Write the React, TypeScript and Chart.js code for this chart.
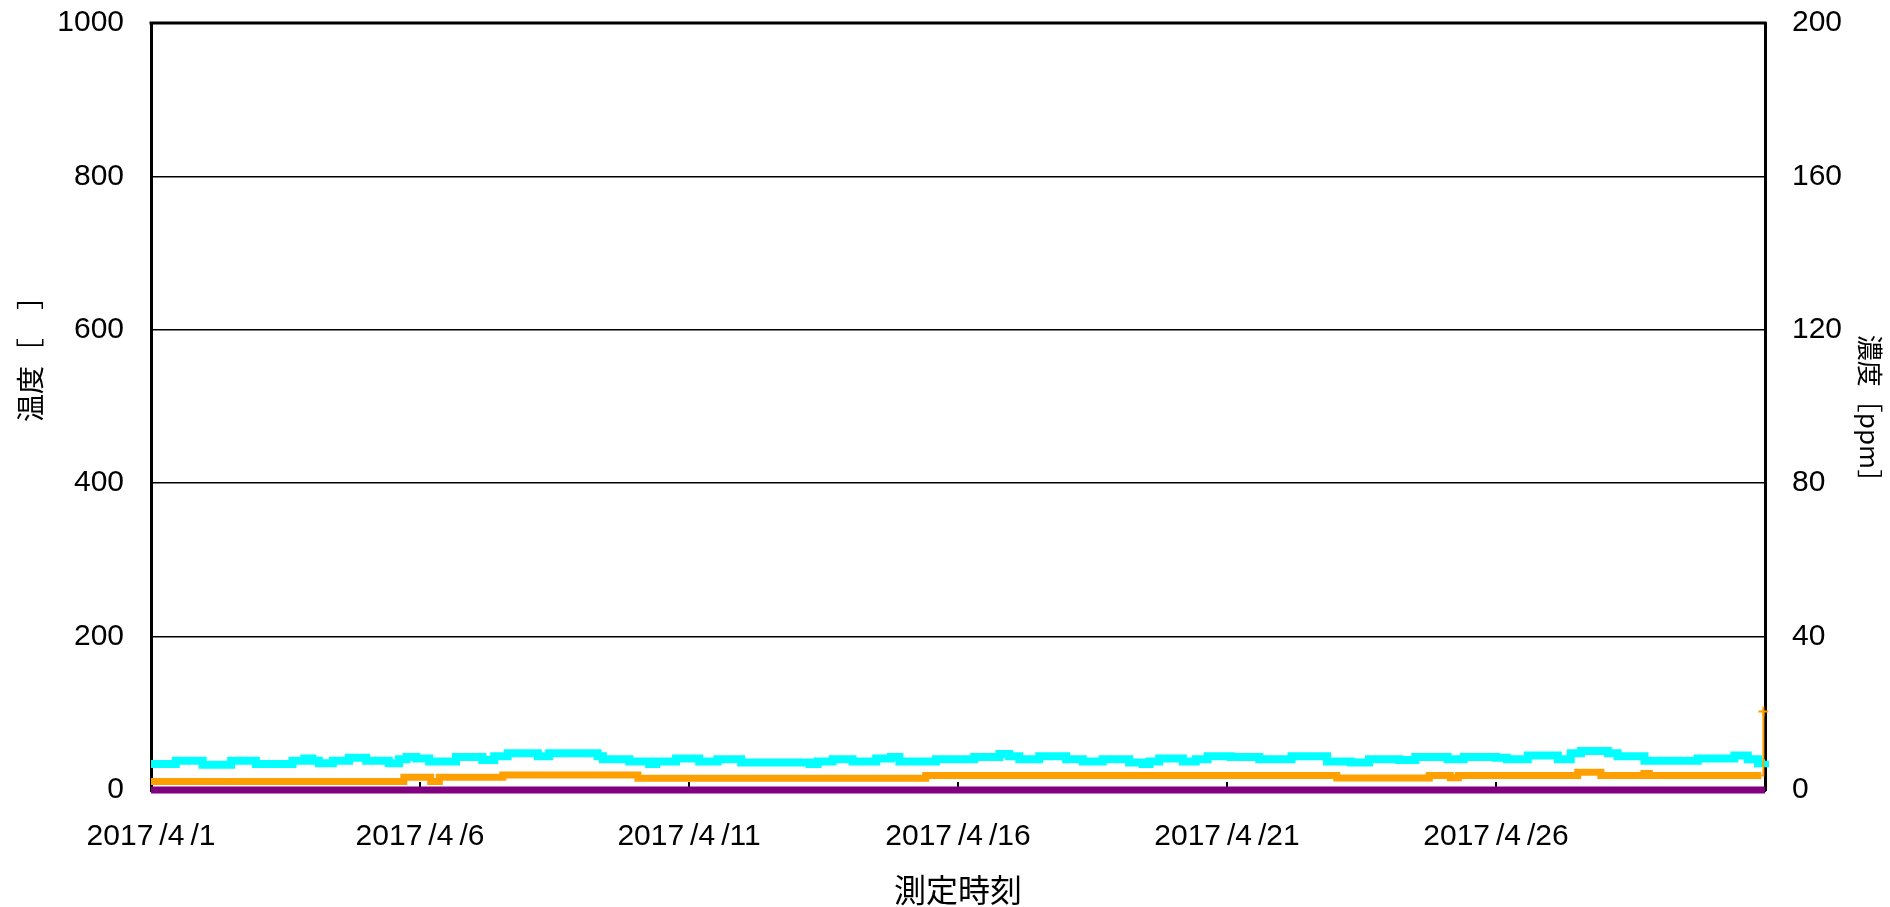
import React, { useEffect, useRef } from "react";
import { Chart, registerables } from "chart.js";

Chart.register(...registerables);

// Time axis: days elapsed since 2017/4/1 00:00
const xTickDays = [0, 5, 10, 15, 20, 25];
const xTickLabels = ["2017/4/1", "2017/4/6", "2017/4/11", "2017/4/16", "2017/4/21", "2017/4/26"];

// Temperature series (left axis) – step change points
const tempDays = [0, 0.46, 0.96, 1.49, 1.95, 2.63, 2.85, 3.0, 3.12, 3.38, 3.68, 4.0, 4.42, 4.61, 4.75, 4.93, 5.17, 5.67, 6.16, 6.38, 6.63, 7.19, 7.4, 8.3, 8.4, 8.89, 9.26, 9.39, 9.76, 10.19, 10.53, 10.97, 12.24, 12.39, 12.67, 13.04, 13.48, 13.75, 13.91, 14.59, 15.3, 15.77, 15.95, 16.14, 16.51, 17.01, 17.32, 17.69, 18.18, 18.43, 18.56, 18.74, 19.18, 19.42, 19.64, 20.07, 20.6, 21.2, 21.86, 22.3, 22.64, 23.2, 23.5, 24.1, 24.4, 25.0, 25.2, 25.59, 26.15, 26.39, 26.58, 27.08, 27.26, 27.76, 28.75, 29.43, 29.68, 29.87, 30];
const tempValues = [34, 38, 33, 38, 34, 38, 41, 38, 35, 38, 42, 38, 35, 40, 43, 41, 37, 43, 39, 44, 48, 44, 48, 44, 40, 37, 34, 37, 41, 37, 40, 36, 34, 37, 40, 37, 41, 43, 37, 40, 43, 47, 44, 40, 44, 40, 37, 40, 36, 34, 37, 41, 37, 40, 44, 43, 40, 44, 37, 36, 40, 39, 43, 40, 43, 42, 40, 45, 40, 48, 51, 48, 44, 38, 41, 45, 40, 35, 38];

// Concentration series A (right axis, ppm)
const concDays = [0, 4.7, 5.2, 5.36, 6.54, 9.05, 14.4, 22.04, 23.76, 24.15, 24.3, 26.52, 26.95, 27.75, 27.85, 29.93, 29.97];
const concValues = [2.2, 3.3, 2.2, 3.3, 3.9, 3.05, 3.8, 3.1, 3.8, 3.2, 3.8, 4.6, 3.8, 4.3, 3.8, 3.8, 20.5];

// Concentration series B (right axis, ppm)
const conc2Days = [0, 30];
const conc2Values = [0, 0];

const leftTicks = [0, 200, 400, 600, 800, 1000];
const rightTicks = [0, 40, 80, 120, 160, 200];

const leftTitle = "温度［　］";
const rightTitle = "濃度［ppm］";
const xTitle = "測定時刻";

const CJK = '"Noto Sans CJK JP", "Noto Sans", sans-serif';
const LATIN = '"Liberation Sans", Arial, sans-serif';

export default function App() {
  const ref = useRef<HTMLCanvasElement | null>(null);

  useEffect(() => {
    const canvas = ref.current;
    if (!canvas) return;

    const framePlugin = {
      id: "frame",
      beforeDatasetsDraw(chart: any) {
        const { ctx, chartArea } = chart;
        ctx.save();
        ctx.strokeStyle = "#000";
        ctx.lineWidth = 3;
        ctx.beginPath();
        ctx.moveTo(chartArea.left - 1.5, chartArea.top);
        ctx.lineTo(chartArea.right + 1.5, chartArea.top);
        ctx.stroke();
        // inward tick marks on the time axis
        const xs = chart.scales.x;
        ctx.lineWidth = 2;
        xTickDays.forEach((d) => {
          const px = xs.getPixelForValue(d);
          ctx.beginPath();
          ctx.moveTo(px, chartArea.bottom);
          ctx.lineTo(px, chartArea.bottom - 8);
          ctx.stroke();
        });
        ctx.restore();
      },
      afterDraw(chart: any) {
        const { ctx, chartArea } = chart;
        ctx.save();
        ctx.fillStyle = "#000";
        ctx.textAlign = "center";
        ctx.textBaseline = "middle";
        // left title
        ctx.font = `28px ${CJK}`;
        ctx.save();
        ctx.translate(30, chartArea.top + 329);
        ctx.rotate(-Math.PI / 2);
        ctx.fillText(leftTitle, 0, 0);
        ctx.restore();
        // right title
        ctx.font = `26px ${CJK}`;
        ctx.save();
        ctx.translate(1870, chartArea.top + 392);
        ctx.rotate(Math.PI / 2);
        ctx.fillText(rightTitle, 0, 0);
        ctx.restore();
        // x title
        ctx.font = `32px ${CJK}`;
        ctx.fillText(xTitle, (chartArea.left + chartArea.right) / 2, chartArea.bottom + 100);
        ctx.restore();
      },
    };

    const tickFont = { family: LATIN, size: 30 };

    const chart = new Chart(canvas, {
      type: "line",
      data: {
        datasets: [
          {
            label: "濃度2",
            data: conc2Days.map((d, i) => ({ x: d, y: conc2Values[i] })),
            yAxisID: "yConc",
            borderColor: "#800080",
            backgroundColor: "#800080",
            borderWidth: 7,
            pointRadius: 0,
            stepped: true,
            clip: false,
          },
          {
            label: "濃度",
            data: concDays.map((d, i) => ({ x: d, y: concValues[i] })),
            yAxisID: "yConc",
            borderColor: "#ffa000",
            backgroundColor: "#ffa000",
            borderWidth: 7,
            stepped: true,
            clip: false,
            pointStyle: "cross",
            pointBorderWidth: 2,
            pointRadius: (c: any) => (c.dataIndex === concDays.length - 1 ? 5 : 0),
            segment: {
              borderWidth: (c: any) => (c.p1DataIndex === concDays.length - 1 ? 2 : 7),
            },
          },
          {
            label: "温度",
            data: tempDays.map((d, i) => ({ x: d, y: tempValues[i] })),
            yAxisID: "yTemp",
            borderColor: "#00ffff",
            backgroundColor: "#00ffff",
            borderWidth: 8,
            pointRadius: 0,
            stepped: true,
            clip: false,
          },
        ],
      },
      options: {
        responsive: false,
        animation: false,
        events: [],
        layout: { padding: { top: 23, left: 0, right: 0, bottom: 0 } },
        plugins: { legend: { display: false }, tooltip: { enabled: false } },
        scales: {
          x: {
            type: "linear",
            min: 0,
            max: 30,
            grid: { display: false, drawTicks: false },
            border: { display: true, color: "#000", width: 3 },
            afterBuildTicks: (s: any) => {
              s.ticks = xTickDays.map((v) => ({ value: v }));
            },
            afterFit: (s: any) => {
              s.height = 117;
              s.paddingLeft = 0;
              s.paddingRight = 0;
            },
            ticks: {
              autoSkip: false,
              maxRotation: 0,
              padding: 29,
              color: "#000",
              font: tickFont,
              callback: (_v: any, i: number) => xTickLabels[i].replace(/\//g, "\u2009/"),
            },
          },
          yTemp: {
            position: "left",
            min: 0,
            max: 1000,
            grid: { color: "#000", lineWidth: 1.5, drawTicks: false },
            border: { display: true, color: "#000", width: 3 },
            afterBuildTicks: (s: any) => {
              s.ticks = leftTicks.map((v) => ({ value: v }));
            },
            afterFit: (s: any) => {
              s.width = 151;
              s.paddingTop = 0;
              s.paddingBottom = 0;
            },
            ticks: { padding: 27, color: "#000", font: tickFont, callback: (v: any) => String(v) },
          },
          yConc: {
            position: "right",
            min: 0,
            max: 200,
            grid: { display: false, drawTicks: false },
            border: { display: true, color: "#000", width: 3 },
            afterBuildTicks: (s: any) => {
              s.ticks = rightTicks.map((v) => ({ value: v }));
            },
            afterFit: (s: any) => {
              s.width = 125;
              s.paddingTop = 0;
              s.paddingBottom = 0;
            },
            ticks: { padding: 27, color: "#000", font: tickFont, callback: (v: any) => String(v) },
          },
        },
      },
      plugins: [framePlugin],
    } as any);

    return () => chart.destroy();
  }, []);

  return (
    <div style={{ position: "fixed", left: 0, top: 0, width: 1890, height: 907, background: "#fff" }}>
      <canvas ref={ref} width={1890} height={907} style={{ display: "block", width: 1890, height: 907 }} />
    </div>
  );
}
